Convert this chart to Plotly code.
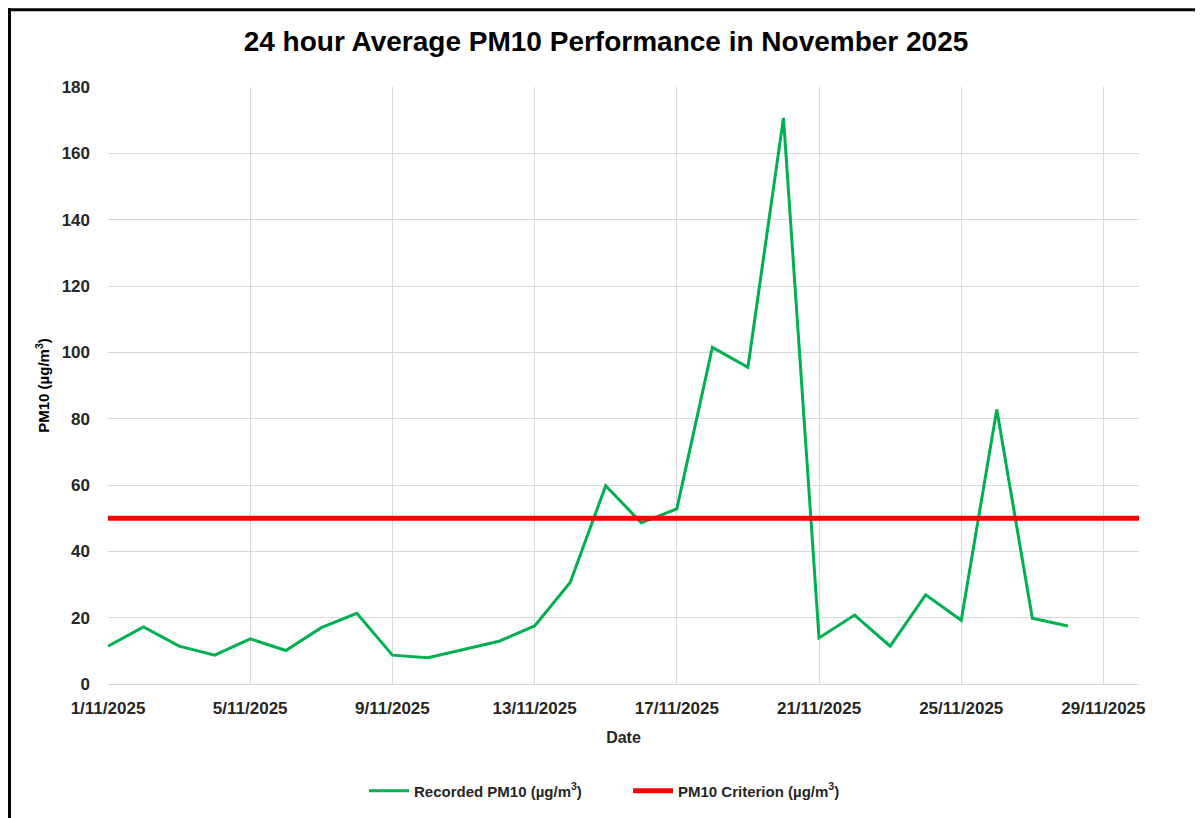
import plotly.graph_objects as go

dates = [f"2025-11-{d:02d}" for d in range(1, 29)]
pm10 = [11.4, 17.2, 11.4, 8.7, 13.6, 10.1, 17.0, 21.3, 8.7, 7.9,
        10.4, 12.9, 17.5, 30.6, 59.8, 48.6, 52.8, 101.5, 95.5, 170.7,
        13.9, 20.8, 11.4, 26.9, 19.2, 82.8, 19.8, 17.5]
crit_dates = ["2025-11-01", "2025-11-30"]
criterion = [50, 50]

title_text = "24 hour Average PM10 Performance in November 2025"
y_ticks = list(range(0, 181, 20))

OFF = 8  # browser body margin
W, H = 1203 - OFF, 818 - OFF
L, T = 108 - OFF, 87 - OFF
R = W - (1139 - OFF)
B = H - (685 - OFF)
pw, ph = W - L - R, H - T - B


def px(x):  # page pixel -> paper x
    return (x - OFF - L) / pw


def py(y):  # page pixel -> paper y
    return (H - B - (y - OFF)) / ph


fig = go.Figure()
fig.add_trace(go.Scatter(
    x=dates, y=pm10, mode="lines", name="Recorded PM10 (µg/m<sup>3</sup>)",
    line=dict(color="#00B050", width=3),
))
fig.add_trace(go.Scatter(
    x=crit_dates, y=criterion, mode="lines", name="PM10 Criterion (µg/m<sup>3</sup>)",
    line=dict(color="#FF0000", width=5),
))

fig.update_layout(
    width=W, height=H,
    margin=dict(l=L, r=R, t=T, b=B),
    paper_bgcolor="white", plot_bgcolor="white",
    font=dict(family="Liberation Sans, Arial, sans-serif", color="#262626"),
    title=dict(text="<b>" + title_text + "</b>", x=px(606), xref="paper",
               xanchor="center", y=1 - (41 - OFF) / H, yanchor="middle",
               font=dict(size=28, color="#000000")),
    showlegend=True,
    legend=dict(orientation="h", x=px(364), xref="paper", xanchor="left",
                y=py(791), yanchor="middle",
                font=dict(size=15, color="#262626", weight="bold"),
                itemwidth=40, entrywidth=209, tracegroupgap=0),
    xaxis=dict(
        type="date",
        range=["2025-11-01", "2025-11-30"],
        tick0="2025-11-01", dtick=4 * 86400000,
        tickformat="%-d/%m/%Y",
        showgrid=True, gridcolor="#d9d9d9", gridwidth=1,
        showline=True, linecolor="#d9d9d9", linewidth=1,
        ticks="", ticklabelstandoff=9,
        tickfont=dict(size=17, color="#262626", weight="bold"),
        title=dict(text="<b>Date</b>", font=dict(size=16, color="#262626"), standoff=14),
        zeroline=False,
    ),
    yaxis=dict(
        range=[0, 180], tickvals=y_ticks,
        showgrid=True, gridcolor="#d9d9d9", gridwidth=1,
        showline=False, zeroline=False, ticks="",
        ticklabelstandoff=17,
        tickfont=dict(size=17, color="#262626", weight="bold"),
        title=dict(text="<b>PM10 (µg/m<sup>3</sup>)</b>", font=dict(size=15, color="#000000"),
                   standoff=8),
    ),
)

# outer frame (black border)
fig.add_shape(type="line", xref="paper", yref="paper",
              x0=px(9.5), x1=px(9.5), y0=py(8), y1=py(830),
              line=dict(color="black", width=3))
fig.add_shape(type="line", xref="paper", yref="paper",
              x0=px(8), x1=px(1215), y0=py(9.5), y1=py(9.5),
              line=dict(color="black", width=3))

fig.write_html("out.html")
